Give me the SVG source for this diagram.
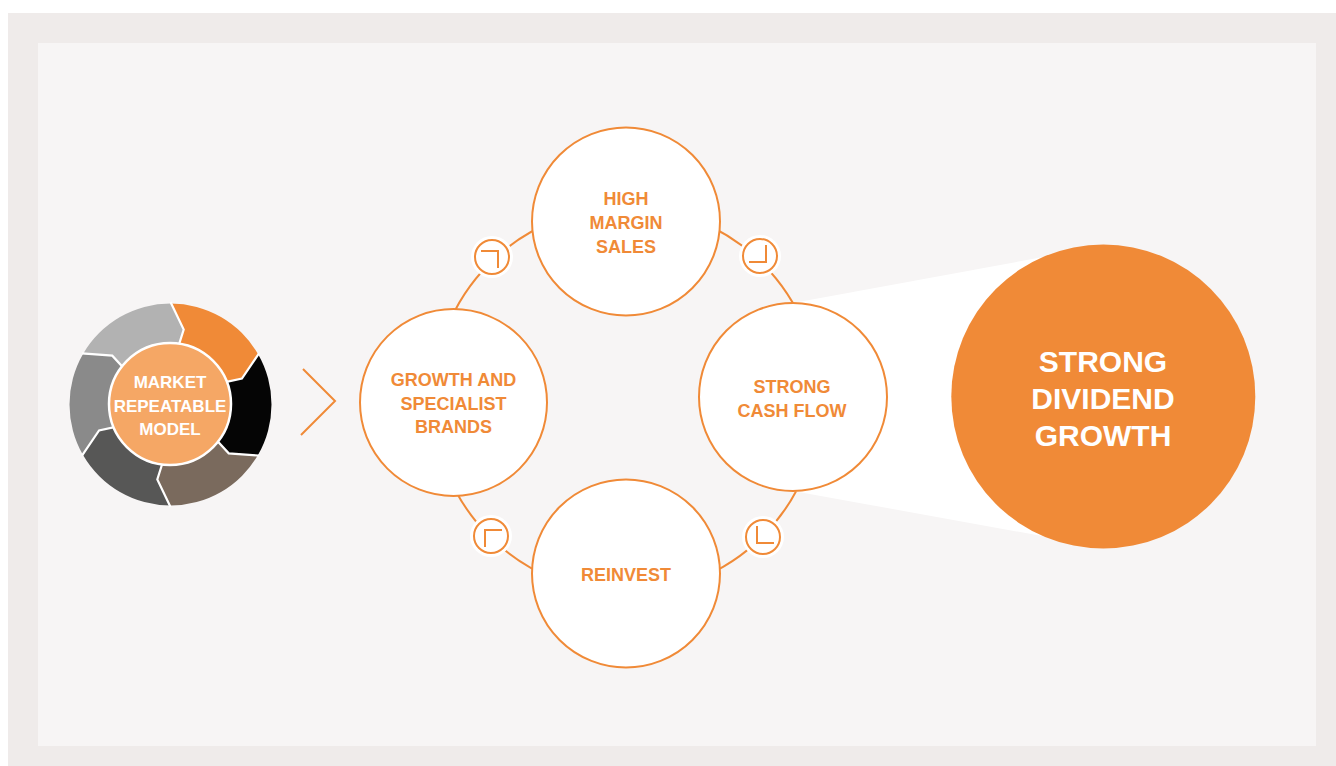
<svg xmlns="http://www.w3.org/2000/svg" width="1336" height="766" viewBox="0 0 1336 766">
<defs>
<style>
.node{fill:#ffffff;stroke:#f08a37;stroke-width:2}
.lbl{font-family:"Liberation Sans",Arial,sans-serif;font-weight:bold;font-size:18px;fill:#f08a37;text-anchor:middle}
.big{font-family:"Liberation Sans",Arial,sans-serif;font-weight:bold;font-size:30px;fill:#ffffff;text-anchor:middle}
.wt{font-family:"Liberation Sans",Arial,sans-serif;font-weight:bold;font-size:17px;fill:#ffffff;text-anchor:middle}
.ring{fill:none;stroke:#f08a37;stroke-width:2}
.halo{fill:#ffffff}
.ico{fill:none;stroke:#f08a37;stroke-width:2}
.bnd{fill:none;stroke:#ffffff;stroke-width:2.2;stroke-linejoin:miter}
</style>
</defs>
<rect x="8" y="13" width="1328" height="753" fill="#efebea"/>
<rect x="38" y="43" width="1278" height="703" fill="#f7f5f5"/>

<g id="connectors">
  <circle class="ring" cx="626" cy="400" r="193"/>
  <polygon points="793,303 1103,246 1103,547 793,491" fill="#ffffff"/>
  <polyline class="ring" points="303,369 335,401 301,435"/>
  <g id="icon-tl">
    <circle class="halo" cx="492" cy="257" r="21"/>
    <circle class="ico" cx="492" cy="257" r="17"/>
    <polyline class="ico" points="481,251 498,251 498,268"/>
  </g>
  <g id="icon-tr">
    <circle class="halo" cx="760" cy="256" r="21"/>
    <circle class="ico" cx="760" cy="256" r="17"/>
    <polyline class="ico" points="766,245 766,262 749,262"/>
  </g>
  <g id="icon-br">
    <circle class="halo" cx="763" cy="537" r="21"/>
    <circle class="ico" cx="763" cy="537" r="17"/>
    <polyline class="ico" points="757,526 757,543 774,543"/>
  </g>
  <g id="icon-bl">
    <circle class="halo" cx="491" cy="536" r="21"/>
    <circle class="ico" cx="491" cy="536" r="17"/>
    <polyline class="ico" points="502,530 485,530 485,547"/>
  </g>
</g>

<g id="node-high-margin">
  <circle class="node" cx="626" cy="221.5" r="94"/>
  <text class="lbl" x="626" y="205">HIGH</text>
  <text class="lbl" x="626" y="229">MARGIN</text>
  <text class="lbl" x="626" y="253">SALES</text>
</g>
<g id="node-growth">
  <circle class="node" cx="453.5" cy="402.5" r="93.5"/>
  <text class="lbl" x="453.5" y="386">GROWTH AND</text>
  <text class="lbl" x="453.5" y="410">SPECIALIST</text>
  <text class="lbl" x="453.5" y="433">BRANDS</text>
</g>
<g id="node-cash-flow">
  <circle class="node" cx="793" cy="397" r="94"/>
  <text class="lbl" x="792" y="393">STRONG</text>
  <text class="lbl" x="792" y="417">CASH FLOW</text>
</g>
<g id="node-reinvest">
  <circle class="node" cx="626" cy="573.5" r="94"/>
  <text class="lbl" x="626" y="581">REINVEST</text>
</g>
<g id="node-dividend">
  <circle cx="1103.3" cy="396.5" r="152" fill="#f08a37"/>
  <text class="big" x="1103" y="372">STRONG</text>
  <text class="big" x="1103" y="409">DIVIDEND</text>
  <text class="big" x="1103" y="446">GROWTH</text>
</g>

<g id="node-market-model">
  <path d="M170.5,404.5 L175.7,354.8 L183.7,329.65 L170.5,303.5 A101,101 0 0 1 257.97,354 L241.92,378.51 L216.18,384.16 Z" fill="#f08a37"/>
  <path d="M170.5,404.5 L216.18,384.16 L241.92,378.51 L257.97,354 A101,101 0 0 1 257.97,455 L228.72,453.35 L210.95,433.89 Z" fill="#050505"/>
  <path d="M170.5,404.5 L210.95,433.89 L228.72,453.35 L257.97,455 A101,101 0 0 1 170.5,505.5 L157.31,479.35 L165.27,454.23 Z" fill="#7a6a5d"/>
  <path d="M170.5,404.5 L165.27,454.23 L157.31,479.35 L170.5,505.5 A101,101 0 0 1 83.03,455 L99.08,430.49 L124.82,424.84 Z" fill="#575756"/>
  <path d="M170.5,404.5 L124.82,424.84 L99.08,430.49 L83.03,455 A101,101 0 0 1 83.03,354 L112.28,355.65 L130.05,375.11 Z" fill="#8a8a8a"/>
  <path d="M170.5,404.5 L130.05,375.11 L112.28,355.65 L83.03,354 A101,101 0 0 1 170.5,303.5 L183.7,329.65 L175.7,354.8 Z" fill="#b2b2b2"/>
  <polyline class="bnd" points="170.5,302 183.7,329.65 175.7,354.8"/>
  <polyline class="bnd" points="259,353.4 241.92,378.51 216.18,384.16"/>
  <polyline class="bnd" points="259,455.6 228.72,453.35 210.95,433.89"/>
  <polyline class="bnd" points="170.5,507 157.31,479.35 165.27,454.23"/>
  <polyline class="bnd" points="82,455.6 99.08,430.49 124.82,424.84"/>
  <polyline class="bnd" points="82,353.4 112.28,355.65 130.05,375.11"/>
  <circle cx="170" cy="404" r="61" fill="#f5a765" stroke="#ffffff" stroke-width="2.5"/>
  <text class="wt" x="170" y="388">MARKET</text>
  <text class="wt" x="170" y="411.5">REPEATABLE</text>
  <text class="wt" x="170" y="435">MODEL</text>
</g>
</svg>
